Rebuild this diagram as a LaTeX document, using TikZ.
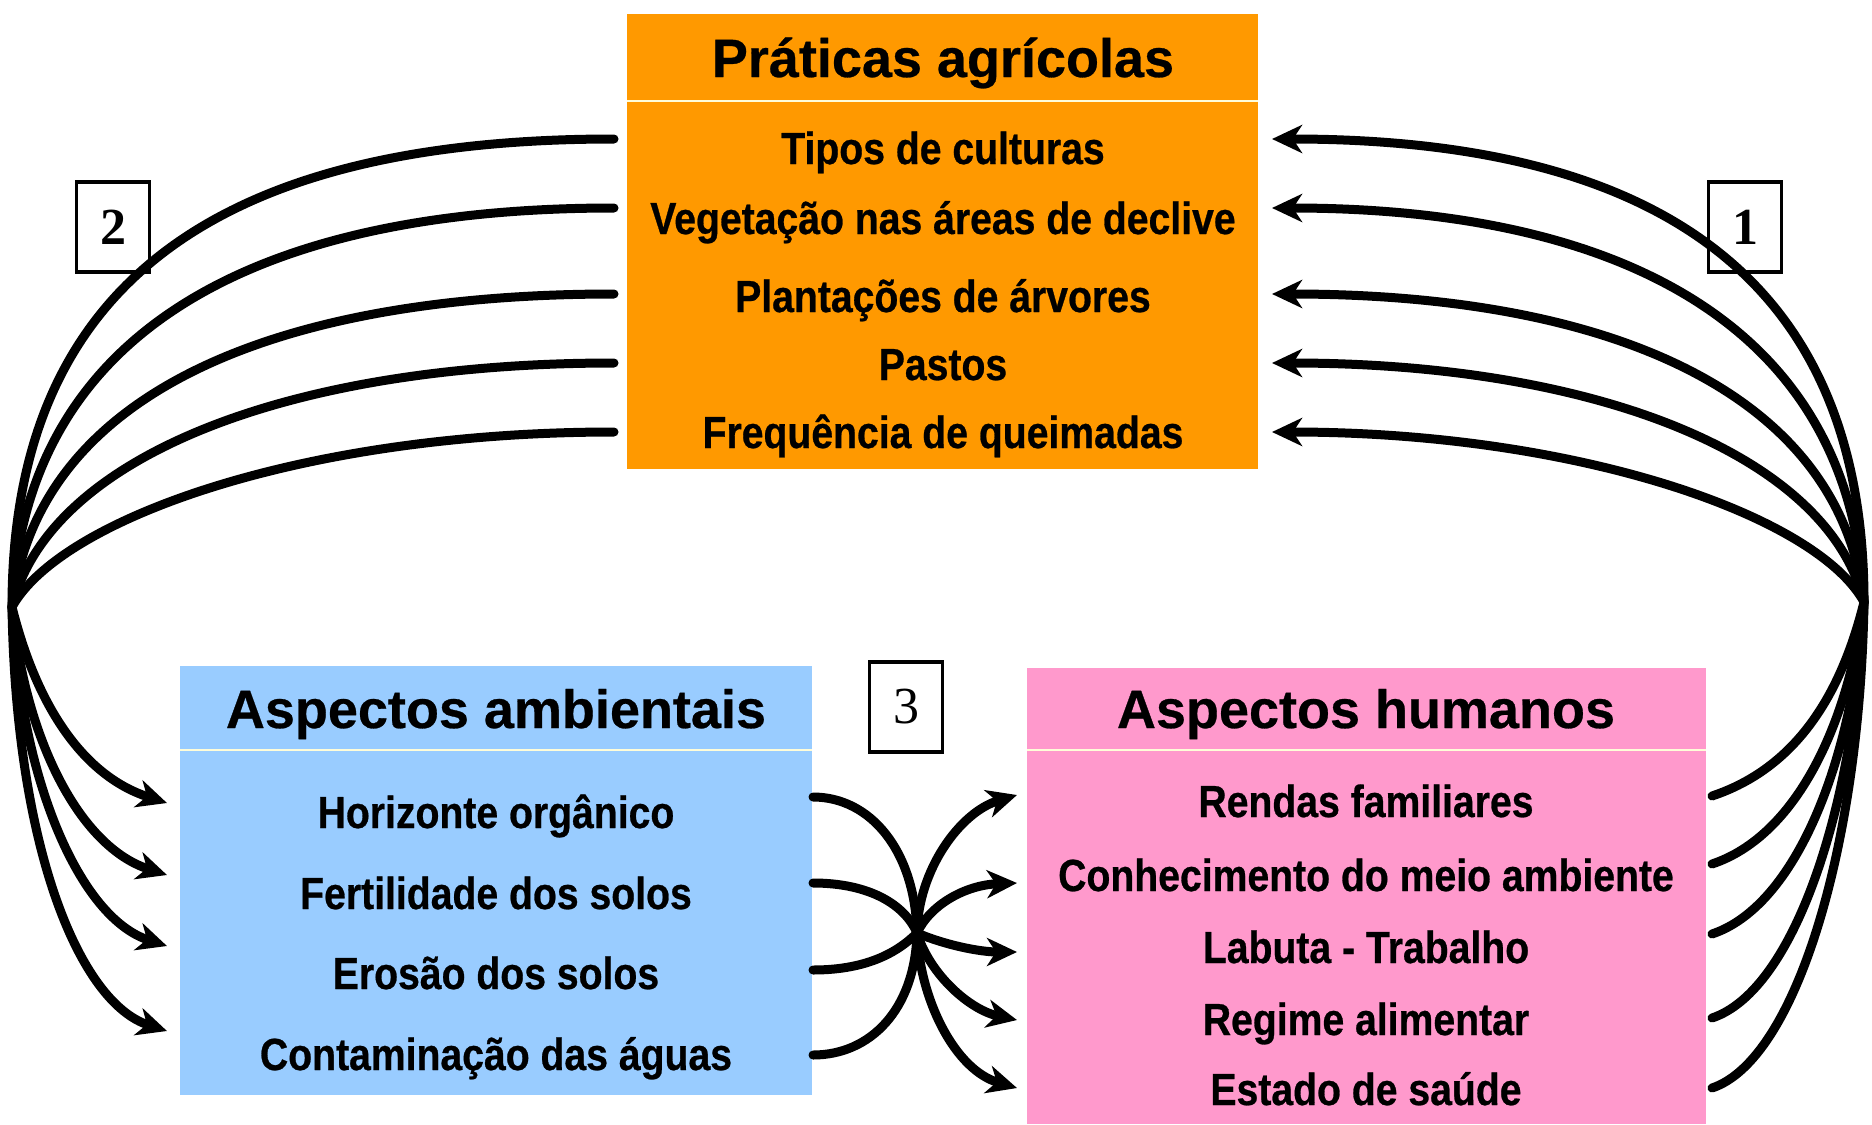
\documentclass[tikz,border=0pt]{standalone}
\usepackage{fontspec}
\setmainfont[FakeBold=0.5]{Liberation Sans}
\newfontfamily\itemfont[FakeStretch=0.87,FakeBold=0.6]{Liberation Sans}
\newfontfamily\numfont{Liberation Serif}
\usetikzlibrary{arrows.meta}
\definecolor{orangebox}{RGB}{255,153,0}
\definecolor{bluebox}{RGB}{153,204,255}
\definecolor{pinkbox}{RGB}{255,153,204}
\begin{document}
\begin{tikzpicture}[x=0.5pt,y=-0.5pt,
  panel/.style={inner sep=0pt, draw=none},
  sepline/.style={white!85!yellow, line width=0.8pt},
  titletext/.style={anchor=base, inner sep=0pt, font=\bfseries\fontsize{27}{29}\selectfont},
  itemtext/.style={anchor=base, inner sep=0pt, font=\itemfont\bfseries\fontsize{22.5}{24}\selectfont},
  numbox/.style={draw=black, line width=1.8pt, fill=white, minimum width=36.5pt, minimum height=45pt, inner sep=0pt},
  conn/.style={line width=4.5pt, line cap=round, black},
  arr/.style={conn, -{Stealth[length=15pt,width=14pt,inset=4.5pt]}}
]
\useasboundingbox (0,0) rectangle (1872,1124);

% panels
\node[panel, fill=orangebox, minimum width=315.5pt, minimum height=227.5pt] (ob) at (942.5,241.5) {};
\node[panel, fill=bluebox, minimum width=316pt, minimum height=214.5pt] (bb) at (496,880.5) {};
\node[panel, fill=pinkbox, minimum width=339.5pt, minimum height=228pt] (pb) at (1366.5,896) {};
\draw[sepline] (627,101) -- (1258,101);
\draw[sepline] (180,750) -- (812,750);
\draw[sepline] (1027,750) -- (1706,750);

% titles
\node[titletext] (ot) at (943,77) {Práticas agrícolas};
\node[titletext] (bt) at (496,728) {Aspectos ambientais};
\node[titletext] (pt) at (1366,728) {Aspectos humanos};

% orange items
\node[itemtext] (o1) at (943,164) {Tipos de culturas};
\node[itemtext] (o2) at (943,234) {Vegetação nas áreas de declive};
\node[itemtext] (o3) at (943,312) {Plantações de árvores};
\node[itemtext] (o4) at (943,380) {Pastos};
\node[itemtext] (o5) at (943,448) {Frequência de queimadas};

% blue items
\node[itemtext] (b1) at (496,828) {Horizonte orgânico};
\node[itemtext] (b2) at (496,909) {Fertilidade dos solos};
\node[itemtext] (b3) at (496,989) {Erosão dos solos};
\node[itemtext] (b4) at (496,1070) {Contaminação das águas};

% pink items
\node[itemtext] (p1) at (1366,817) {Rendas familiares};
\node[itemtext] (p2) at (1366,891) {Conhecimento do meio ambiente};
\node[itemtext] (p3) at (1366,963) {Labuta - Trabalho};
\node[itemtext] (p4) at (1366,1035) {Regime alimentar};
\node[itemtext] (p5) at (1366,1105) {Estado de saúde};

% number boxes
\node[numbox, font=\numfont\bfseries\fontsize{26}{26}\selectfont] (n2) at (113,227) {2};
\node[numbox, font=\numfont\bfseries\fontsize{26}{26}\selectfont] (n1) at (1745,227) {1};
\node[numbox, font=\numfont\fontsize{26}{26}\selectfont] (n3) at (906,707) {3};

% ports
\coordinate (L) at (12,607);
\coordinate (R) at (1864,602);
\coordinate (X) at (917,933);
\coordinate (oL1) at (614,139);
\coordinate (oL2) at (614,208);
\coordinate (oL3) at (614,294);
\coordinate (oL4) at (614,363);
\coordinate (oL5) at (614,432);
\coordinate (oR1) at (1272,139);
\coordinate (oR2) at (1272,208);
\coordinate (oR3) at (1272,294);
\coordinate (oR4) at (1272,363);
\coordinate (oR5) at (1272,432);
\coordinate (bL1) at (167,803);
\coordinate (bL2) at (167,875);
\coordinate (bL3) at (167,946);
\coordinate (bL4) at (167,1031);
\coordinate (bR1) at (813,797);
\coordinate (bR2) at (813,883);
\coordinate (bR3) at (813,970);
\coordinate (bR4) at (813,1055);
\coordinate (pL1) at (1017,795);
\coordinate (pL2) at (1017,883);
\coordinate (pL3) at (1017,952);
\coordinate (pL4) at (1017,1020);
\coordinate (pL5) at (1017,1088);
\coordinate (pR1) at (1712,796);
\coordinate (pR2) at (1712,864);
\coordinate (pR3) at (1712,934);
\coordinate (pR4) at (1712,1018);
\coordinate (pR5) at (1712,1088);

% group 2: orange -> blue (via left)
\draw[conn] (oL1) .. controls (223,139) and (12,280) .. (L);
\draw[conn] (oL2) .. controls (242,208) and (24,340) .. (L);
\draw[conn] (oL3) .. controls (262,294) and (36,400) .. (L);
\draw[conn] (oL4) .. controls (281,363) and (48,460) .. (L);
\draw[conn] (oL5) .. controls (300,432) and (60,520) .. (L);
\draw[arr] (L) .. controls (35,700) and (80,775) .. (bL1);
\draw[arr] (L) .. controls (25,740) and (80,847) .. (bL2);
\draw[arr] (L) .. controls (20,780) and (80,918) .. (bL3);
\draw[arr] (L) .. controls (16,850) and (80,1003) .. (bL4);

% group 1: pink -> orange (via right)
\draw[conn] (pR1) .. controls (1796,768) and (1841,695) .. (R);
\draw[conn] (pR2) .. controls (1796,836) and (1848,725) .. (R);
\draw[conn] (pR3) .. controls (1796,906) and (1853,760) .. (R);
\draw[conn] (pR4) .. controls (1796,990) and (1856,800) .. (R);
\draw[conn] (pR5) .. controls (1796,1060) and (1860,845) .. (R);
\draw[arr] (R) .. controls (1864,275) and (1653,139) .. (oR1);
\draw[arr] (R) .. controls (1852,335) and (1634,208) .. (oR2);
\draw[arr] (R) .. controls (1840,395) and (1614,294) .. (oR3);
\draw[arr] (R) .. controls (1828,455) and (1595,363) .. (oR4);
\draw[arr] (R) .. controls (1816,515) and (1576,432) .. (oR5);

% group 3: blue -> pink (crossing)
\draw[conn] (bR1) .. controls (870,797) and (915,850) .. (X);
\draw[conn] (bR2) .. controls (870,883) and (905,905) .. (X);
\draw[conn] (bR3) .. controls (870,970) and (900,950) .. (X);
\draw[conn] (bR4) .. controls (870,1055) and (915,1010) .. (X);
\draw[arr] (X) .. controls (918,870) and (960,812) .. (pL1);
\draw[arr] (X) .. controls (930,905) and (965,885) .. (pL2);
\draw[arr] (X) .. controls (945,945) and (980,952) .. (pL3);
\draw[arr] (X) .. controls (930,975) and (970,1010) .. (pL4);
\draw[arr] (X) .. controls (920,1000) and (955,1070) .. (pL5);
\end{tikzpicture}
\end{document}
